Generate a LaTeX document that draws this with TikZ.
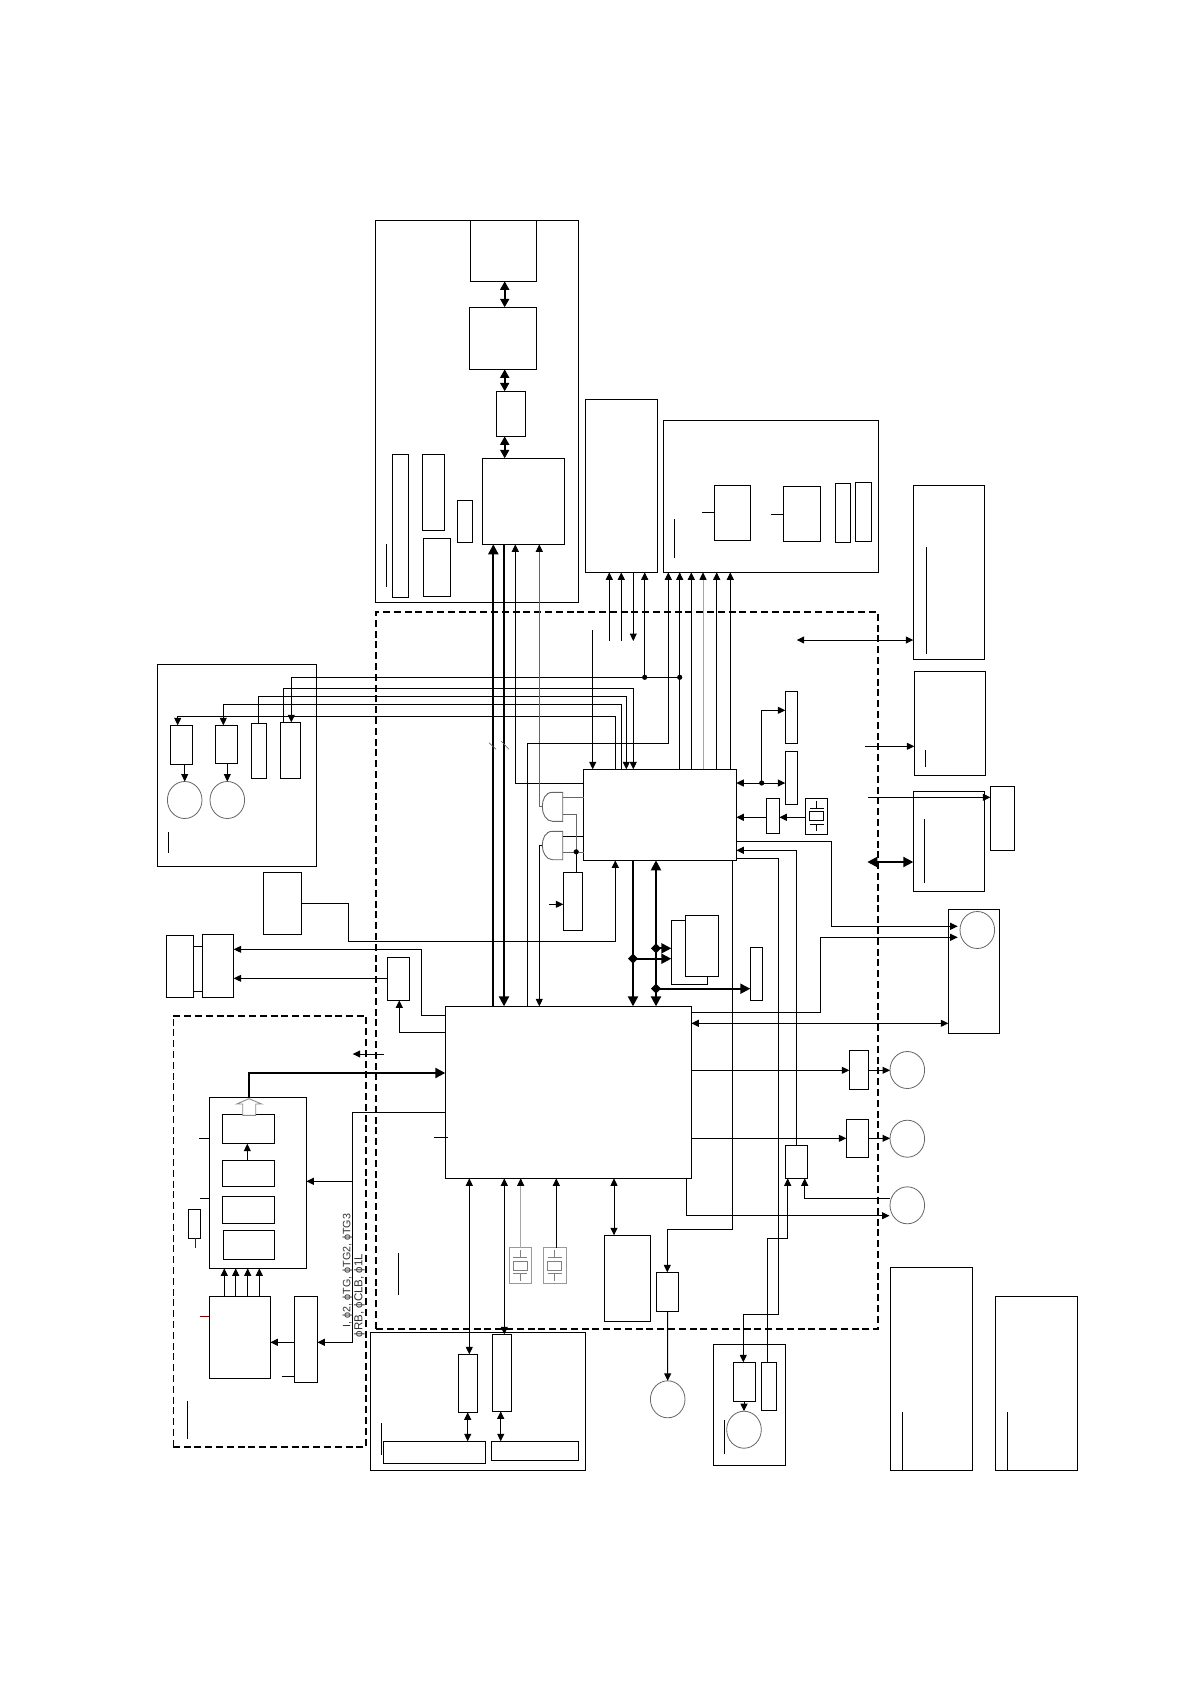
\documentclass[tikz,border=0pt]{standalone}
\usepackage{fontspec}
\setmainfont{Liberation Sans}
\usetikzlibrary{arrows.meta,shapes.geometric}
\tikzset{
  bx/.style={draw=black,line width=1pt,inner sep=0pt,outer sep=0pt},
  ci/.style={draw=black!60,line width=0.8pt,ellipse,inner sep=0pt,outer sep=0pt,minimum width=34.6pt,minimum height=37pt},
  conn/.style={line width=1pt,line join=miter},
  glin/.style={line width=1pt,draw=black!60},
  lglin/.style={line width=1pt,draw=black!35},
  bus/.style={line width=2.1pt},
  mid/.style={line width=1.8pt},
  to/.style={-{Triangle[length=7.5pt,width=7pt,color=black]}},
  dbl/.style={{Triangle[length=7.5pt,width=7pt]}-{Triangle[length=7.5pt,width=7pt]}},
  bto/.style={-{Triangle[length=10pt,width=10pt]}},
  bdbl/.style={{Triangle[length=10pt,width=10pt]}-{Triangle[length=10pt,width=10pt]}},
  mdbl/.style={{Triangle[length=8.5pt,width=9pt]}-{Triangle[length=8.5pt,width=9pt]}},
  dash main/.style={line width=2pt,dash pattern=on 7pt off 3.8pt},
  dash thin/.style={line width=1.2pt,dash pattern=on 7pt off 3.8pt},
  lab/.style={inner sep=0pt,outer sep=0pt,rotate=90,anchor=west,text=black!80},
}
\newcommand\bxx[6][bx]{%
  \pgfmathsetmacro\bxw{#5-#3}\pgfmathsetmacro\bxh{#6-#4}%
  \pgfmathsetmacro\bxcx{(#3+#5)/2}\pgfmathsetmacro\bxcy{(#4+#6)/2}%
  \node[#1,minimum width=\bxw pt,minimum height=\bxh pt] (#2) at (\bxcx,\bxcy) {};}
\newcommand\dotat[2]{\fill (#1,#2) circle (2.6pt);}
\newcommand\diaat[2]{\fill (#1-5,#2) -- (#1,#2-5) -- (#1+5,#2) -- (#1,#2+5) -- cycle;}
\newcommand\xtal[5]{%
  \pgfmathsetmacro\bxl{#2-11.3}\pgfmathsetmacro\bxr{#2+11.3}%
  \pgfmathsetmacro\bxt{#3-18.2}\pgfmathsetmacro\bxb{#3+18.2}%
  \bxx[bx,draw=#4]{#1}{\bxl}{\bxt}{\bxr}{\bxb}
  \draw[draw=#5,line width=.9pt] (#2-7,#3-4.6) rectangle (#2+7,#3+4.6)
    (#2-7,#3-8) -- (#2+7,#3-8) (#2-7,#3+8) -- (#2+7,#3+8)
    (#2,#3-15.5) -- (#2,#3-8) (#2,#3+8) -- (#2,#3+15);}
\begin{document}
\begin{tikzpicture}[x=1pt,y=-1pt]
\useasboundingbox (0,0) rectangle (1190,1684);
\fill[white] (0,0) rectangle (1190,1684);
% dashed regions
\draw[dash main] (376,1328.7) -- (376,612) -- (878,612) -- (878,1328.7) -- cycle;
\draw[dash main] (173.3,1015.7) -- (366,1015.7) -- (366,1446.7) -- (173.3,1446.7);
\draw[dash thin] (173.3,1446.7) -- (173.3,1015.7);
% top-left block
\bxx{H}{375.3}{220.3}{578.3}{602.3}
\bxx{hA}{470.3}{220.3}{536.3}{281.3}
\bxx{hB}{469.3}{307.3}{536.3}{369.3}
\bxx{hC}{496.3}{391.3}{525.3}{436.3}
\bxx{hD}{482.3}{458.3}{564.3}{544.3}
\bxx{hE}{392.3}{454.3}{408.3}{597.3}
\bxx{hF}{422.3}{454.3}{444.3}{530.3}
\bxx{hG}{423.3}{538.3}{450.3}{596.3}
\bxx{hH}{457.3}{500.3}{472.3}{542.3}
\draw[conn] (386.3,544.3) -- (386.3,586.7);
\draw[mid,mdbl] (hA.south -| 504.7,0) -- (hB.north -| 504.7,0);
\draw[mid,mdbl] (hB.south -| 504.7,0) -- (hC.north -| 504.7,0);
\draw[mid,mdbl] (hC.south -| 504.7,0) -- (hD.north -| 504.7,0);
% F and G blocks
\bxx{F}{585.3}{399.3}{657.3}{572.3}
\bxx{G}{663.3}{420.3}{878.3}{572.3}
\bxx{gA}{714.3}{485.3}{750.3}{540.3}
\bxx{gB}{783.3}{486.3}{820.3}{541.3}
\bxx{gC}{835.3}{483.3}{850.3}{542.3}
\bxx{gD}{855.3}{482.3}{871.3}{541.3}
\coordinate (gAs) at (702.3,512.3);
\coordinate (gBs) at (771,514.3);
\draw[conn] (gAs) -- (gA.west |- gAs);
\draw[conn] (gBs) -- (gB.west |- gBs);
\draw[conn] (674.3,519.3) -- (674.3,557.7);
% right column
\bxx{YA}{913.3}{485.5}{984.3}{659.3}
\bxx{YB}{914.3}{671.3}{985.3}{775.3}
\bxx{YC}{913.3}{791.3}{984.3}{891.3}
\bxx{YD}{990.3}{786.3}{1014.3}{850.3}
\draw[conn] (926.3,547) -- (926.3,653.7);
\draw[conn] (925.3,750) -- (925.3,766.7);
\draw[conn] (924.3,819) -- (924.3,882.7);
\coordinate (yaf) at (796.7,640);
\coordinate (ybf) at (865,746.3);
\coordinate (ycf) at (867.3,862);
\coordinate (ydf) at (868,797.3);
\draw[conn,dbl] (yaf) -- (YA.west |- yaf);
\draw[conn,to] (ybf) -- (YB.west |- ybf);
\draw[bus,bdbl] (ycf) -- (YC.west |- ycf);
\draw[conn,to] (ydf) -- (YD.west |- ydf);
% motor box
\bxx{A}{157.3}{664.3}{316.3}{866.3}
\bxx{aA}{170.3}{725.3}{192.3}{764.3}
\bxx{aB}{215.3}{725.3}{237.3}{763.3}
\bxx{aC}{251.3}{723.3}{266.3}{778.3}
\bxx{aD}{280.3}{722.3}{300.3}{778.3}
\node[ci] (mA) at (184.7,800) {};
\node[ci] (mB) at (227.3,800) {};
\draw[conn,to] (aA.south -| mA.north) -- (mA.north);
\draw[conn,to] (aB.south -| mB.north) -- (mB.north);
\draw[conn] (168.3,832.3) -- (168.3,853.3);
% E control chip
\bxx{E}{583.7}{769.3}{736.3}{860.3}
% CPU
\bxx{CPU}{445.3}{1006.3}{691.3}{1178.3}
% bundle to motor box
\draw[conn,to] (aD.north -| 283.3,0) -- (283.3,688.7) -- (633.3,688.7) -- (E.north -| 633.3,0);
\draw[conn,to] (291.3,677.3) -- (aD.north -| 291.3,0);
\draw[conn] (291.3,677.3) -- (679.7,677.3);
\draw[conn,to] (aC.north -| 258.3,0) -- (258.3,696.7) -- (626.3,696.7) -- (E.north -| 626.3,0);
\draw[conn,to] (E.north -| 621.3,0) -- (621.3,704.3) -- (223.3,704.3) -- (aB.north -| 223.3,0);
\draw[conn,to] (E.north -| 615.3,0) -- (615.3,716.7) -- (177.7,716.7) -- (aA.north -| 177.7,0);
% buses to hD
\draw[bus,bto] (CPU.north -| 493.3,0) -- (hD.south -| 493.3,0);
\draw[bus,bto] (hD.south -| 504,0) -- (CPU.north -| 504,0);
\draw[conn,to] (E.west |- 0,783.3) -- (515.3,783.3) -- (hD.south -| 515.3,0);
\draw[glin,to] (542.3,806.7) -- (539.3,806.7) -- (hD.south -| 539.3,0);
\draw[draw=black!60,line width=.6pt] (489,742.7) -- (496,749.3) (501,741) -- (509,749.3);
% F connectors
\draw[conn,to] (609.3,641) -- (F.south -| 609.3,0);
\draw[conn,to] (621.3,641) -- (F.south -| 621.3,0);
\draw[conn,to] (F.south -| 633.3,0) -- (633.3,641);
\draw[conn,to] (644.7,677.3) -- (F.south -| 644.7,0);
\draw[conn,to] (592.7,630) -- (E.north -| 592.7,0);
\dotat{644.7}{677.3}
\dotat{679.7}{677.3}
% G connectors
\draw[conn,to] (CPU.north -| 527.7,0) -- (527.7,743.6) -- (668.3,743.6) -- (G.south -| 668.3,0);
\draw[conn,to] (E.north -| 679.7,0) -- (G.south -| 679.7,0);
\draw[conn,to] (E.north -| 691.3,0) -- (G.south -| 691.3,0);
\draw[lglin,to] (E.north -| 703,0) -- (G.south -| 703,0);
\draw[conn,to] (E.north -| 716.7,0) -- (G.south -| 716.7,0);
\draw[conn,to] (E.north -| 730.3,0) -- (G.south -| 730.3,0);
% AND gates
\coordinate (gtA) at (562.7,792.3);
\coordinate (gtB) at (562.7,831.3);
\draw[draw=black!60,line width=.9pt] (gtA) -- (552.5,792.3) .. controls (545,792.3) and (542.3,800) .. (542.3,806.8) .. controls (542.3,814) and (546,821.3) .. (552.5,821.3) -- (562.7,821.3) -- cycle;
\draw[draw=black!60,line width=.9pt] (gtB) -- (552.5,831.3) .. controls (545,831.3) and (542.3,839) .. (542.3,845.5) .. controls (542.3,852) and (546,859.7) .. (552.5,859.7) -- (562.7,859.7) -- cycle;
\bxx{I}{563.3}{872.3}{582.3}{930.3}
\draw[glin] (562.7,797.3) -- (E.west |- 0,797.3);
\draw[conn] (562.7,836.3) -- (E.west |- 0,836.3);
\draw[glin] (562.7,852) -- (E.west |- 0,852);
\draw[glin] (562.7,814.3) -- (576,814.3) -- (576,851.8);
\draw[conn] (576.2,851.8) -- (I.north -| 576.2,0);
\dotat{576.2}{851.8}
\coordinate (iin) at (549,904.3);
\draw[conn,to] (iin) -- (I.west |- iin);
\draw[conn,to] (542.3,845.3) -- (539.3,845.3) -- (CPU.north -| 539.3,0);
% box B and E feed
\bxx{B}{263.3}{872.3}{301.7}{934.3}
\draw[conn,to] (B.east |- 0,903.3) -- (348.3,903.3) -- (348.3,941.3) -- (615.3,941.3) -- (E.south -| 615.3,0);
% C, D, small box
\bxx{C}{166.3}{935.3}{193.3}{997.3}
\bxx{D}{202.3}{934.3}{233.7}{997.3}
\draw[conn] (C.east |- 0,946.3) -- (D.west |- 0,946.3);
\draw[conn] (C.east |- 0,991.3) -- (D.west |- 0,991.3);
\bxx{ab}{387.3}{957.3}{409.3}{1000.3}
\draw[conn,to] (CPU.west |- 0,1015.3) -- (421.3,1015.3) -- (421.3,949.3) -- (D.east |- 0,949.3);
\draw[conn,to] (ab.west |- 0,978.3) -- (D.east |- 0,978.3);
\draw[conn,to] (CPU.west |- 0,1032.3) -- (399.3,1032.3) -- (ab.south -| 399.3,0);
% E-CPU thick buses and memories
\bxx{JA}{671.3}{920.3}{707.3}{984.3}
\bxx[bx,fill=white]{JB}{685.3}{915.3}{718.3}{976.3}
\bxx{K}{750.3}{947.3}{762.7}{1000.3}
\draw[bus,bto] (E.south -| 633,0) -- (CPU.north -| 633,0);
\draw[bus,bdbl] (E.south -| 656,0) -- (CPU.north -| 656,0);
\draw[bus,bto] (633,958.7) -- (JA.west |- 0,958.7);
\draw[bus,bto] (656,948.3) -- (JA.west |- 0,948.3);
\draw[bus,bto] (656,988.7) -- (K.west |- 0,988.7);
\diaat{633}{958.7}
\diaat{656}{948.3}
\diaat{656}{988.7}
% E right side
\bxx{LA}{785.3}{691.3}{797.3}{743.3}
\bxx{LB}{785.3}{751.3}{797.3}{804.3}
\bxx{M}{766.3}{798.3}{779.3}{833.3}
\xtal{XA}{816.5}{816.3}{black}{black}
\draw[conn,dbl] (E.east |- 0,783) -- (LB.west |- 0,783);
\draw[conn,to] (761.7,783) -- (761.7,710.3) -- (LA.west |- 0,710.3);
\dotat{761.7}{783}
\draw[conn,to] (XA.west |- 0,817.3) -- (M.east |- 0,817.3);
\draw[conn,to] (M.west |- 0,817.3) -- (E.east |- 0,817.3);
% N block
\bxx{N}{948.3}{909.3}{999.3}{1033.3}
\node[ci] (mN) at (977.3,930) {};
\coordinate (nA) at (957.7,926.3);
\coordinate (nB) at (957.7,937.3);
\draw[conn,to] (E.east |- 0,841.3) -- (831.5,841.3) -- (831.5,926.3) -- (nA);
\draw[conn,to] (CPU.east |- 0,1012.3) -- (820.3,1012.3) -- (820.3,937.3) -- (nB);
\draw[conn,dbl] (CPU.east |- 0,1023.3) -- (N.west |- 0,1023.3);
% motors right
\bxx{VA}{849.3}{1050.3}{868.3}{1089.3}
\bxx{VB}{846.3}{1119.3}{868.3}{1157.3}
\bxx{P}{785.3}{1145.3}{807.7}{1178.3}
\node[ci] (mV) at (907.3,1070) {};
\node[ci] (mW) at (907.3,1138.7) {};
\node[ci] (mX) at (907.3,1205.3) {};
\draw[conn,to] (CPU.east |- 0,1070.3) -- (VA.west |- 0,1070.3);
\draw[conn,to] (CPU.east |- 0,1138.3) -- (VB.west |- 0,1138.3);
\draw[conn,to] (VA.east |- 0,1070.3) -- (mV.west |- 0,1070.3);
\draw[conn,to] (VB.east |- 0,1138.3) -- (mW.west |- 0,1138.3);
\draw[conn,to] (889.5,1198.3) -- (804.7,1198.3) -- (P.south -| 804.7,0);
\draw[conn,to] (CPU.south -| 686.7,0) -- (686.7,1215.7) -- (889.5,1215.7);
\draw[conn,to] (P.north -| 796.3,0) -- (796.3,850.3) -- (E.east |- 0,850.3);
% bottom-centre blocks
\bxx{S}{604.3}{1235.3}{650.3}{1321.3}
\bxx{R}{656.3}{1272.3}{678.7}{1311.7}
\node[ci] (mR) at (667.7,1399.3) {};
\draw[conn,dbl] (CPU.south -| 614,0) -- (S.north -| 614,0);
\draw[conn,to] (E.south -| 732.3,0) -- (732.3,1229.3) -- (667.3,1229.3) -- (R.north -| 667.3,0);
\draw[conn,to] (R.south -| 667.5,0) -- (mR.north);
\bxx{U}{713.3}{1344.3}{785.3}{1465.3}
\bxx{Q}{733.3}{1362.3}{755.3}{1401.3}
\bxx{QB}{761.3}{1362.3}{776.3}{1410.3}
\node[ci] (mQ) at (744,1429.7) {};
\draw[conn,to] (E.east |- 0,858.3) -- (778.7,858.3) -- (778.7,1314.3) -- (743.3,1314.3) -- (Q.north -| 743.3,0);
\draw[conn,to] (QB.north -| 767.3,0) -- (767.3,1238.3) -- (787.7,1238.3) -- (P.south -| 787.7,0);
\draw[conn,to] (Q.south -| mQ.north) -- (mQ.north);
\draw[conn] (724.3,1420) -- (724.3,1454);
% crystals
\xtal{XB}{520.3}{1265.7}{black!40}{black!50}
\xtal{XC}{554.7}{1265.7}{black!40}{black!50}
\draw[lglin,to] (XB.north -| 520.7,0) -- (CPU.south -| 520.7,0);
\draw[conn,to] (XC.north -| 556.3,0) -- (CPU.south -| 556.3,0);
\draw[conn] (398.3,1253.3) -- (398.3,1295);
\coordinate (cst) at (434,1137.3);
\draw[conn] (cst) -- (448,1137.3);
% bottom block
\bxx{T}{370.3}{1332.3}{585.3}{1470.3}
\bxx{TA}{458.3}{1354.3}{477.3}{1412.3}
\bxx{TB}{492.3}{1334.3}{511.3}{1411.3}
\bxx{TC}{383.3}{1441.3}{485.3}{1463.3}
\bxx{TD}{491.3}{1441.3}{578.3}{1460.3}
\draw[conn] (381.3,1423.3) -- (381.3,1455);
\draw[conn,dbl] (CPU.south -| 469.3,0) -- (TA.north -| 469.3,0);
\draw[conn,dbl] (CPU.south -| 504.3,0) -- (TB.north -| 504.3,0);
\draw[conn,dbl] (TA.south -| 467.7,0) -- (TC.north -| 467.7,0);
\draw[conn,dbl] (TB.south -| 500.7,0) -- (TD.north -| 500.7,0);
% big right boxes
\bxx{WA}{890.3}{1267.3}{972.3}{1470.3}
\bxx{WB}{995.3}{1296.3}{1077.3}{1470.3}
\draw[conn] (902.3,1412) -- (902.3,1470.3);
\draw[conn] (1007.3,1412) -- (1007.3,1470.3);
% left dashed contents
\bxx{CCD}{209.3}{1097.3}{306.3}{1268.3}
\bxx{dA}{222.3}{1114.3}{274.7}{1143.7}
\bxx{dB}{222.3}{1160.3}{274.7}{1186.3}
\bxx{dC}{222.3}{1196.3}{274.7}{1223.3}
\bxx{dD}{223.3}{1230.3}{274.7}{1259.3}
\draw[conn,to] (dB.north -| 247.3,0) -- (dA.south -| 247.3,0);
\draw[draw=black!45,line width=.9pt,fill=white] (249,1098.7) -- (261.7,1104) -- (255.7,1104) -- (255.7,1115.3) -- (242.7,1115.3) -- (242.7,1104) -- (236.7,1104) -- cycle;
\draw[bus,bto] (CCD.north -| 249,0) -- (249,1073) -- (CPU.west |- 0,1073);
\bxx{Z}{294.3}{1296.3}{317.3}{1382.3}
\bxx{AA}{209.3}{1296.3}{270.3}{1378.3}
\bxx{sm}{188.3}{1209.3}{200.7}{1238.3}
\draw[conn,to] (CPU.west |- 0,1112.3) -- (352.3,1112.3) -- (352.3,1342.3) -- (Z.east |- 0,1342.3);
\draw[conn,to] (352.3,1181.3) -- (CCD.east |- 0,1181.3);
\draw[conn,to] (Z.west |- 0,1342.3) -- (AA.east |- 0,1342.3);
\draw[conn,to] (AA.north -| 224.3,0) -- (CCD.south -| 224.3,0);
\draw[conn,to] (AA.north -| 235.7,0) -- (CCD.south -| 235.7,0);
\draw[conn,to] (AA.north -| 247.7,0) -- (CCD.south -| 247.7,0);
\draw[conn,to] (AA.north -| 259.3,0) -- (CCD.south -| 259.3,0);
\draw[conn] (199.3,1138) -- (CCD.west |- 0,1138);
\draw[conn] (200,1198.3) -- (CCD.west |- 0,1198.3);
\draw[conn,draw=red!50!black] (200,1316.3) -- (AA.west |- 0,1316.3);
\draw[conn] (282,1376.3) -- (Z.west |- 0,1376.3);
\draw[conn,draw=red!50!black] (sm.south -| 195.3,0) -- (195.3,1247.7);
\draw[conn] (187.3,1401) -- (187.3,1438.7);
\coordinate (arl) at (384,1054);
\draw[conn,to] (arl) -- (352.7,1054);
\node[lab,font=\fontsize{10.7}{12}\selectfont] (txA) at (347.7,1327) {I, ϕ2, ϕTG, ϕTG2, ϕTG3};
\node[lab,font=\fontsize{11.5}{13}\selectfont] (txB) at (359.3,1337) {ϕRB, ϕCLB, ϕ1L};
\end{tikzpicture}
\end{document}
